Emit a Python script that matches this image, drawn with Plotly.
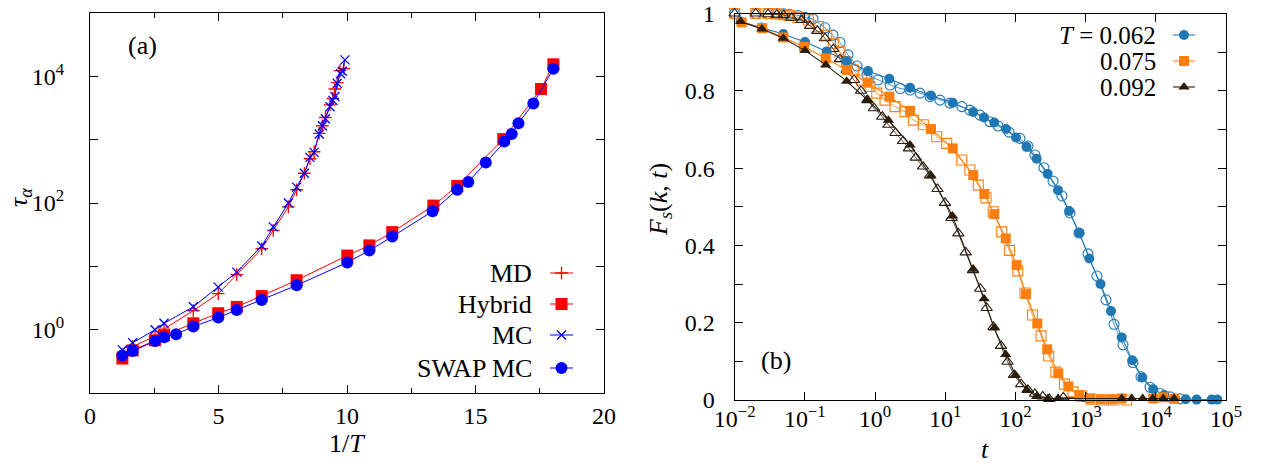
import plotly.graph_objects as go

# ---------------- Panel (a) data ----------------
md_invT = [1.26, 1.66, 2.53, 2.88, 4.02, 4.99, 5.71, 6.68, 7.13, 7.72, 8.04, 8.34, 8.56, 8.72,
           8.92, 9.04, 9.16, 9.34, 9.45, 9.53, 9.62, 9.73, 9.88]
md_tau = [0.40, 0.54, 0.79, 1.02, 2.0, 3.7, 7.4, 19, 37, 87, 162, 295, 500, 645,
          1260, 1660, 2240, 3550, 4470, 6310, 7940, 12300, 13200]

hyb_invT = [1.26, 1.66, 2.53, 2.88, 4.02, 4.99, 5.71, 6.68, 8.04, 10.01, 10.87, 11.76, 13.36,
            14.29, 16.08, 17.55, 18.03]
hyb_tau = [0.35, 0.47, 0.68, 0.81, 1.26, 1.82, 2.29, 3.39, 6.03, 14.8, 21.4, 34.7, 91,
           186, 1020, 6310, 15500]

mc_invT = [1.26, 1.66, 2.53, 2.88, 4.02, 4.99, 5.71, 6.68, 7.13, 7.72, 8.04, 8.34, 8.56, 8.72,
           8.92, 9.04, 9.16, 9.34, 9.45, 9.53, 9.62, 9.75, 9.82, 9.92]
mc_tau = [0.48, 0.62, 1.0, 1.26, 2.3, 4.7, 8.1, 21, 42, 100, 178, 295, 525, 630,
          1230, 1660, 2140, 3310, 4170, 4790, 7760, 11000, 12000, 18200]

swap_invT = [1.26, 1.66, 2.53, 2.88, 3.35, 4.02, 4.99, 5.71, 6.68, 8.04, 10.01, 10.87, 11.76,
             13.33, 14.29, 14.72, 15.40, 16.12, 16.41, 16.67, 17.25, 18.03]
swap_tau = [0.39, 0.46, 0.66, 0.76, 0.85, 1.12, 1.55, 2.04, 2.95, 5.01, 11.5, 17.8, 29.5,
            74, 162, 214, 437, 933, 1230, 1820, 3720, 13200]

# ---------------- Panel (b) data ----------------
# filled symbols
t062_f = [0.0122, 0.0243, 0.0494, 0.1007, 0.205, 0.395, 0.794, 1.60, 3.16, 6.28, 12.8, 25.1,
          35.7, 50.0, 73.5, 102, 144, 201, 288, 405, 581, 813, 1130, 1630, 2300, 3270, 4620,
          6430, 9200, 13200, 18800, 26700, 38200, 62500, 75200]
F062_f = [0.979, 0.964, 0.947, 0.926, 0.902, 0.877, 0.851, 0.831, 0.808, 0.788, 0.769, 0.745,
          0.731, 0.718, 0.701, 0.679, 0.655, 0.624, 0.585, 0.543, 0.489, 0.433, 0.366, 0.300,
          0.230, 0.162, 0.103, 0.058, 0.028, 0.013, 0.004, 0.002, 0.001, 0.001, 0.001]

t075_f = [0.0126, 0.0248, 0.0494, 0.0975, 0.199, 0.395, 0.787, 1.60, 3.16, 6.28, 12.8, 25.1,
          36.1, 50.0, 72.9, 104, 142, 205, 284, 408, 568, 813, 1160, 1640, 2360, 3270, 9200,
          12800, 18300]
F075_f = [0.977, 0.962, 0.938, 0.914, 0.884, 0.854, 0.821, 0.785, 0.748, 0.701, 0.651, 0.582,
          0.533, 0.481, 0.418, 0.349, 0.274, 0.198, 0.131, 0.069, 0.035, 0.013, 0.004, 0.002,
          0.002, 0.004, 0.004, 0.007, 0.003]

t092_f = [0.0122, 0.0245, 0.0494, 0.1007, 0.199, 0.395, 0.769, 1.55, 3.16, 6.28, 12.7, 25.1,
          35.7, 49.9, 72.8, 100, 145, 201, 290, 405, 3270, 4540, 6500, 9040, 12800, 18200]
F092_f = [0.979, 0.960, 0.936, 0.904, 0.867, 0.825, 0.777, 0.724, 0.660, 0.580, 0.476, 0.338,
          0.262, 0.186, 0.118, 0.065, 0.026, 0.009, 0.004, 0.004, 0.004, 0.004, 0.004, 0.004,
          0.004, 0.004]

# open symbols
t062_o = [0.01, 0.02, 0.03, 0.04, 0.05, 0.06, 0.08, 0.1, 0.131, 0.194, 0.252, 0.318, 0.413,
          0.555, 0.769, 1.10, 1.64, 2.29, 3.16, 4.38, 6.07, 8.43, 11.7, 17.3, 22.5, 31.3, 43.4,
          56.5, 81.1, 116, 151, 190, 255, 344, 461, 600, 805, 1080, 1450, 1950, 2540, 3410,
          4730, 6150, 8260, 11500, 15900, 22100]
F062_o = [1.0, 1.0, 1.0, 1.0, 0.999, 0.998, 0.995, 0.99, 0.986, 0.963, 0.944, 0.925, 0.893,
          0.864, 0.841, 0.828, 0.815, 0.806, 0.802, 0.794, 0.785, 0.776, 0.768, 0.759, 0.750,
          0.737, 0.720, 0.709, 0.693, 0.677, 0.657, 0.634, 0.601, 0.566, 0.528, 0.484, 0.432,
          0.378, 0.321, 0.259, 0.196, 0.143, 0.097, 0.060, 0.033, 0.017, 0.008, 0.003]

t075_o = [0.01, 0.02, 0.03, 0.04, 0.05, 0.06, 0.08, 0.112, 0.156, 0.205, 0.255, 0.317, 0.395,
          0.491, 0.647, 0.849, 1.06, 1.39, 1.93, 2.67, 3.52, 4.88, 7.57, 10.5, 17.2, 22.5, 29.6,
          38.1, 48.4, 63.8, 82.4, 108, 137, 175, 232, 298, 378, 500, 662, 879, 1220, 1690,
          2480, 3850]
F075_o = [1.0, 1.0, 1.0, 0.999, 0.997, 0.995, 0.99, 0.983, 0.966, 0.944, 0.923, 0.901, 0.875,
          0.854, 0.828, 0.811, 0.794, 0.776, 0.759, 0.746, 0.724, 0.712, 0.681, 0.664, 0.621,
          0.595, 0.556, 0.523, 0.487, 0.435, 0.387, 0.334, 0.277, 0.220, 0.166, 0.114, 0.072,
          0.041, 0.021, 0.010, 0.002, 0.0, 0.0, 0.0]

t092_o = [0.01, 0.02, 0.03, 0.04, 0.05, 0.065, 0.0904, 0.119, 0.151, 0.194, 0.255, 0.317,
          0.395, 0.502, 0.632, 0.782, 0.968, 1.27, 1.55, 1.96, 2.51, 3.05, 3.81, 4.83, 6.07,
          7.76, 9.93, 12.3, 15.4, 19.6, 24.9, 31.6, 39.0, 48.8, 62.4, 77.3, 95.5, 121, 151,
          190, 245, 304, 481, 1040]
F092_o = [1.0, 1.0, 0.998, 0.997, 0.996, 0.989, 0.983, 0.968, 0.955, 0.936, 0.908, 0.882,
          0.854, 0.828, 0.800, 0.776, 0.755, 0.733, 0.712, 0.691, 0.670, 0.651, 0.627, 0.604,
          0.581, 0.546, 0.510, 0.471, 0.431, 0.382, 0.336, 0.288, 0.238, 0.189, 0.140, 0.099,
          0.065, 0.041, 0.026, 0.016, 0.009, 0.003, 0.007, 0.004]

legend_a = ["MD", "Hybrid", "MC", "SWAP MC"]
legend_b = ["<i>T</i> = 0.062", "0.075", "0.092"]

# ---------------- styles ----------------
FONT = "Liberation Serif"
RED = "#ff0000"
BLUE = "#0000ff"
C062 = "#1f77b4"
C075 = "#ff7f0e"
C092 = "#2b1d0e"

W, H = 1266, 466


def px_x(p):
    return p / W


def px_y(p):
    return 1 - p / H


fig = go.Figure()

# panel (a)
sty_a = [
    (md_invT, md_tau, RED, dict(symbol="cross-thin", size=9, line=dict(width=1.3, color=RED))),
    (hyb_invT, hyb_tau, RED, dict(symbol="square", size=12, color=RED)),
    (mc_invT, mc_tau, BLUE, dict(symbol="x-thin", size=9, line=dict(width=1.3, color=BLUE))),
    (swap_invT, swap_tau, BLUE, dict(symbol="circle", size=12, color=BLUE)),
]
for (xs, ys, col, mk), nm in zip(sty_a, legend_a):
    fig.add_trace(go.Scatter(x=xs, y=ys, mode="lines+markers", name=nm, showlegend=False,
                             line=dict(color=col, width=1), marker=mk,
                             xaxis="x", yaxis="y", cliponaxis=False))

# panel (b): open first, then filled
open_sets = [(t062_o, F062_o, C062, "circle-open"), (t075_o, F075_o, C075, "square-open"),
             (t092_o, F092_o, C092, "triangle-up-open")]
for xs, ys, col, sym in open_sets:
    fig.add_trace(go.Scatter(x=xs, y=ys, mode="lines+markers", showlegend=False,
                             line=dict(color=col, width=0.8),
                             marker=dict(symbol=sym, size=10, color=col, line=dict(width=1.1, color=col)),
                             xaxis="x2", yaxis="y2", cliponaxis=False))
filled_sets = [(t062_f, F062_f, C062, "circle"), (t075_f, F075_f, C075, "square"),
               (t092_f, F092_f, C092, "triangle-up")]
for xs, ys, col, sym in filled_sets:
    fig.add_trace(go.Scatter(x=xs, y=ys, mode="lines+markers", showlegend=False,
                             line=dict(color=col, width=1.1),
                             marker=dict(symbol=sym, size=10, color=col),
                             xaxis="x2", yaxis="y2", cliponaxis=False))

# ---------------- manual legends (overlay pixel axis x3/y3) ----------------
key_a_y = [273, 304, 335, 368]
for (xs, ys, col, mk), yk in zip(sty_a, key_a_y):
    fig.add_trace(go.Scatter(x=[550, 573], y=[yk, yk], mode="lines", showlegend=False,
                             line=dict(color=col, width=1), xaxis="x3", yaxis="y3",
                             hoverinfo="skip"))
    fig.add_trace(go.Scatter(x=[561.5], y=[yk], mode="markers", showlegend=False, marker=mk,
                             xaxis="x3", yaxis="y3", hoverinfo="skip"))
key_b_y = [35, 61, 87]
for (xs, ys, col, sym), yk in zip(filled_sets, key_b_y):
    fig.add_trace(go.Scatter(x=[1173, 1195], y=[yk, yk], mode="lines", showlegend=False,
                             line=dict(color=col, width=1.1), xaxis="x3", yaxis="y3",
                             hoverinfo="skip"))
    fig.add_trace(go.Scatter(x=[1184], y=[yk], mode="markers", showlegend=False,
                             marker=dict(symbol=sym, size=10, color=col),
                             xaxis="x3", yaxis="y3", hoverinfo="skip"))

annotations = []
for txt, yk in zip(legend_a, key_a_y):
    annotations.append(dict(x=534, y=yk, xref="x3", yref="y3", text=txt, showarrow=False,
                            xanchor="right", yanchor="middle",
                            font=dict(family=FONT, size=26, color="black")))
for txt, yk in zip(legend_b, key_b_y):
    annotations.append(dict(x=1158, y=yk, xref="x3", yref="y3", text=txt, showarrow=False,
                            xanchor="right", yanchor="middle",
                            font=dict(family=FONT, size=25, color="black")))
annotations += [
    dict(x=142, y=45, xref="x3", yref="y3", text="(a)", showarrow=False,
         font=dict(family=FONT, size=26, color="black")),
    dict(x=776, y=360, xref="x3", yref="y3", text="(b)", showarrow=False,
         font=dict(family=FONT, size=26, color="black")),
    dict(x=347, y=443, xref="x3", yref="y3", text="1/<i>T</i>", showarrow=False,
         font=dict(family=FONT, size=26, color="black")),
    dict(x=985, y=449, xref="x3", yref="y3", text="<i>t</i>", showarrow=False,
         font=dict(family=FONT, size=26, color="black")),
    dict(x=20, y=198, xref="x3", yref="y3", text="<i>τ</i><sub><i>α</i></sub>", showarrow=False,
         textangle=-90, font=dict(family=FONT, size=26, color="black")),
    dict(x=660, y=200, xref="x3", yref="y3", text="<i>F</i><sub><i>s</i></sub>(<i>k</i>, <i>t</i>)",
         showarrow=False, textangle=-90, font=dict(family=FONT, size=26, color="black")),
]

axis_common = dict(showline=True, linecolor="black", linewidth=1.3, mirror="ticks",
                   ticks="inside", ticklen=8, tickwidth=1, tickcolor="black", showgrid=False,
                   zeroline=False, automargin=False,
                   tickfont=dict(family=FONT, size=24, color="black"))

fig.update_layout(
    width=W, height=H, autosize=False,
    margin=dict(l=0, r=0, t=0, b=0, pad=0, autoexpand=False),
    paper_bgcolor="white", plot_bgcolor="rgba(0,0,0,0)",
    showlegend=False,
    xaxis=dict(domain=[px_x(90), px_x(604)], anchor="y", range=[0, 20],
               tickvals=[0, 5, 10, 15, 20], minor=dict(dtick=2.5, ticks="inside", ticklen=5,
                                                         tickcolor="black"),
               ticklabelstandoff=1, **axis_common),
    yaxis=dict(domain=[px_y(393), px_y(13)], anchor="x", type="log", range=[-1, 5],
               tickvals=[0.1, 1, 10, 100, 1000, 1e4, 1e5],
               ticktext=["", "10<sup>0</sup>", "", "10<sup>2</sup>", "", "10<sup>4</sup>", ""],
               ticklabelstandoff=20, **axis_common),
    xaxis2=dict(domain=[px_x(734.6), px_x(1226)], anchor="y2", type="log", range=[-2, 5],
                tickvals=[1e-2, 1e-1, 1, 10, 100, 1e3, 1e4, 1e5],
                ticktext=["10<sup>−2</sup>", "10<sup>−1</sup>", "10<sup>0</sup>", "10<sup>1</sup>",
                          "10<sup>2</sup>", "10<sup>3</sup>", "10<sup>4</sup>", "10<sup>5</sup>"],
                ticklabelstandoff=-3, **axis_common),
    yaxis2=dict(domain=[px_y(400), px_y(13.5)], anchor="x2", range=[0, 1],
                tickvals=[0, 0.2, 0.4, 0.6, 0.8, 1],
                ticktext=["0", "0.2", "0.4", "0.6", "0.8", "1"],
                minor=dict(dtick=0.1, ticks="inside", ticklen=8, tickcolor="black"),
                ticklabelstandoff=14, **axis_common),
    xaxis3=dict(domain=[0, 1], anchor="y3", range=[0, W], visible=False, fixedrange=True),
    yaxis3=dict(domain=[0, 1], anchor="x3", range=[H, 0], visible=False, fixedrange=True),
    annotations=annotations,
)

fig.write_html("out.html", config={"displayModeBar": False},
               post_script="document.body.style.margin='0';document.body.style.overflow='hidden';")
